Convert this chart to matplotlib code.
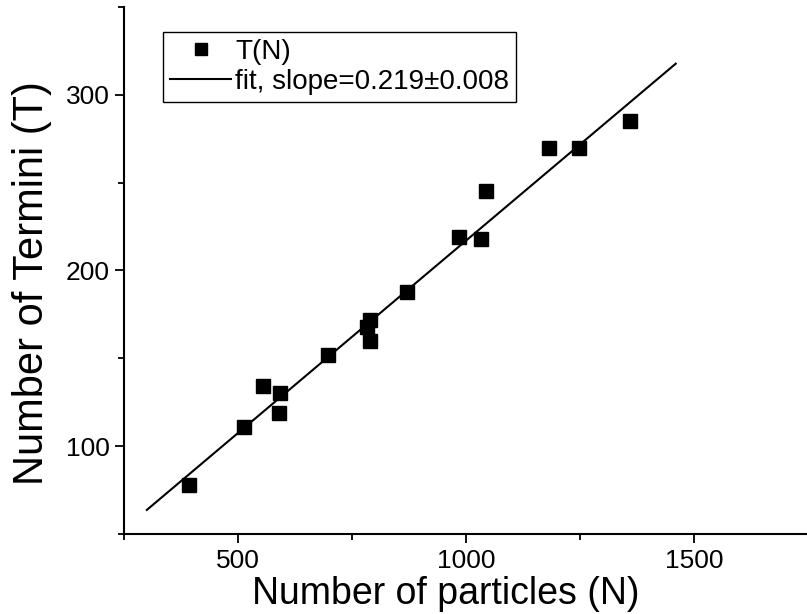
import matplotlib
matplotlib.use("Agg")
import matplotlib.pyplot as plt
from matplotlib.ticker import MultipleLocator
import numpy as np

# data
n_particles = [393, 513, 555, 592, 590, 697, 783, 789, 790, 870,
               985, 1033, 1043, 1183, 1248, 1360]
n_termini = [78, 111, 134, 130, 119, 152, 168, 172, 160, 188,
             219, 218, 245, 270, 270, 285]

fit_slope = 0.219
fit_intercept = -2.0
fit_range = [300, 1460]

data_label = "T(N)"
fit_label = "fit, slope=0.219\u00b10.008"

plt.rcParams['font.family'] = ['Liberation Sans', 'DejaVu Sans']

fig = plt.figure(figsize=(8.07, 6.14), dpi=100)
ax = fig.add_axes([0.1537, 0.1303, 0.8475, 0.8583])

fx = np.array(fit_range, dtype=float)
ax.plot(n_particles, n_termini, 's', color='black', markersize=10,
        label=data_label)
ax.plot(fx, fit_slope * fx + fit_intercept, '-', color='black',
        linewidth=1.5, label=fit_label)

ax.set_xlim(250, 1750)
ax.set_ylim(50, 350)

ax.xaxis.set_major_locator(MultipleLocator(500))
ax.xaxis.set_minor_locator(MultipleLocator(250))
ax.yaxis.set_major_locator(MultipleLocator(100))
ax.yaxis.set_minor_locator(MultipleLocator(50))

for s in ['top', 'right']:
    ax.spines[s].set_visible(False)
for s in ['left', 'bottom']:
    ax.spines[s].set_linewidth(1.5)

ax.tick_params(which='major', direction='out', length=6.5, width=1.3,
               labelsize=19, pad=4)
ax.tick_params(which='minor', direction='out', length=4, width=1.3)

ax.set_xlabel("Number of particles (N)", fontsize=27)
ax.set_ylabel("Number of Termini (T)", fontsize=30)
ax.xaxis.set_label_coords(0.471, -0.08)
ax.yaxis.set_label_coords(-0.105, 0.476)

leg = ax.legend(loc='upper left', bbox_to_anchor=(0.057, 0.953),
                fontsize=20, frameon=True, fancybox=False, framealpha=1,
                edgecolor='black', handlelength=2.2, handletextpad=0.15,
                borderpad=0.25, labelspacing=0.15, markerscale=0.85,
                borderaxespad=0)
leg.get_frame().set_linewidth(1.0)

fig.savefig("out.png", dpi=100)
